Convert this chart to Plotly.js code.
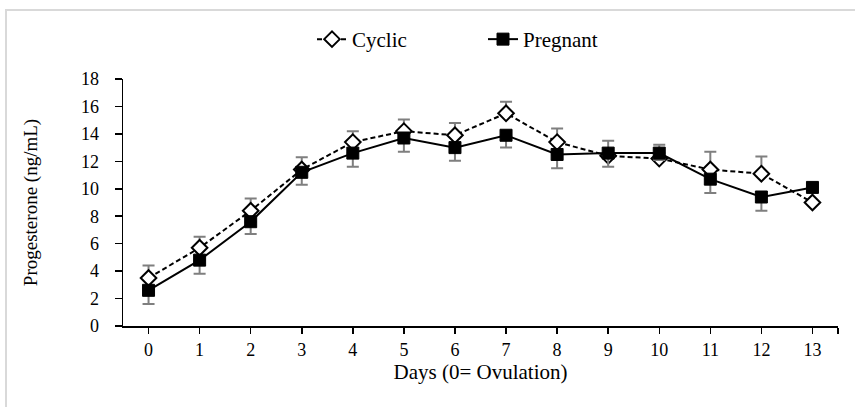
<!DOCTYPE html>
<html>
<head>
<meta charset="utf-8">
<script src="https://cdn.plot.ly/plotly-3.0.1.min.js"></script>
<style>
  html, body { margin: 0; padding: 0; background: #ffffff; overflow: hidden; }
  #wrap { position: relative; width: 855px; height: 407px; overflow: hidden; }
  #frame { position: absolute; left: 5px; top: 9px; width: 870px; height: 420px;
           border: 2px solid #d9d9d9; box-sizing: border-box; }
  #chart { position: absolute; left: 0; top: 0; width: 855px; height: 407px; }
</style>
</head>
<body>
<div id="wrap">
  <div id="frame"></div>
  <div id="chart"></div>
</div>
<script>
// Days after ovulation
const days = [0, 1, 2, 3, 4, 5, 6, 7, 8, 9, 10, 11, 12, 13];
const dayLabels = ["0", "1", "2", "3", "4", "5", "6", "7", "8", "9", "10", "11", "12", "13"];

// Progesterone (ng/mL), cyclic group (mean and + error)
const cyclic = [3.5, 5.7, 8.4, 11.4, 13.4, 14.2, 13.9, 15.5, 13.4, 12.4, 12.2, 11.4, 11.1, 9.0];
const cyclicErr = [0.9, 0.8, 0.9, 0.9, 0.8, 0.85, 0.9, 0.85, 1.0, 1.1, 1.0, 1.3, 1.25, 0];

// Progesterone (ng/mL), pregnant group (mean and - error)
const pregnant = [2.6, 4.8, 7.6, 11.2, 12.6, 13.7, 13.0, 13.9, 12.5, 12.6, 12.6, 10.7, 9.4, 10.1];
const pregnantErr = [1.0, 1.0, 0.9, 0.9, 1.0, 1.0, 0.95, 0.9, 1.0, 1.0, 0.5, 1.0, 1.0, 0];

const zeros = days.map(() => 0);
const FONT = "Liberation Serif, Times New Roman, serif";

const traces = [
  {
    name: "Cyclic",
    x: days, y: cyclic,
    mode: "lines+markers",
    line: { color: "#000000", width: 2, dash: "5px,3px" },
    marker: { symbol: "diamond", size: 12, color: "#ffffff", line: { color: "#000000", width: 2 } },
    error_y: { type: "data", symmetric: false, array: cyclicErr, arrayminus: zeros,
               color: "#7f7f7f", thickness: 2, width: 6 }
  },
  {
    name: "Pregnant",
    x: days, y: pregnant,
    mode: "lines+markers",
    line: { color: "#000000", width: 2 },
    marker: { symbol: "square", size: 12, color: "#000000", line: { color: "#000000", width: 1 } },
    error_y: { type: "data", symmetric: false, array: zeros, arrayminus: pregnantErr,
               color: "#7f7f7f", thickness: 2, width: 6 }
  }
];

const layout = {
  width: 855, height: 407,
  paper_bgcolor: "rgba(0,0,0,0)",
  plot_bgcolor: "rgba(0,0,0,0)",
  margin: { l: 123, r: 17, t: 79, b: 81 },
  font: { family: FONT, color: "#000000", size: 18 },
  showlegend: true,
  legend: {
    orientation: "h", x: (312 - 123) / 715, xanchor: "left", y: 1.16, yanchor: "middle",
    font: { family: FONT, size: 21, color: "#000000" },
    bgcolor: "rgba(0,0,0,0)", entrywidth: 126, entrywidthmode: "pixels"
  },
  xaxis: {
    range: [-0.5, 13.5],
    tickmode: "array",
    tickvals: days.concat([13.5]),
    ticktext: dayLabels.concat([""]),
    ticks: "outside", ticklen: 6, tickwidth: 1.5, tickcolor: "#000000",
    showline: true, linecolor: "#000000", linewidth: 1.5,
    showgrid: false, zeroline: false,
    ticklabelstandoff: 1,
    tickfont: { family: FONT, size: 18, color: "#000000" },
    title: { text: "Days (0= Ovulation)", font: { family: FONT, size: 21, color: "#000000" }, standoff: 0 },
    fixedrange: true
  },
  yaxis: {
    range: [0, 18],
    tickmode: "linear", tick0: 0, dtick: 2,
    ticks: "outside", ticklen: 7, tickwidth: 1.5, tickcolor: "#000000",
    showline: true, linecolor: "#000000", linewidth: 1.5,
    showgrid: false, zeroline: false,
    ticklabelstandoff: 12,
    tickfont: { family: FONT, size: 18, color: "#000000" },
    title: { text: "Progesterone (ng/mL)", font: { family: FONT, size: 19, color: "#000000" }, standoff: 38 },
    fixedrange: true
  }
};

Plotly.newPlot("chart", traces, layout, { displayModeBar: false, staticPlot: true });
</script>
</body>
</html>
